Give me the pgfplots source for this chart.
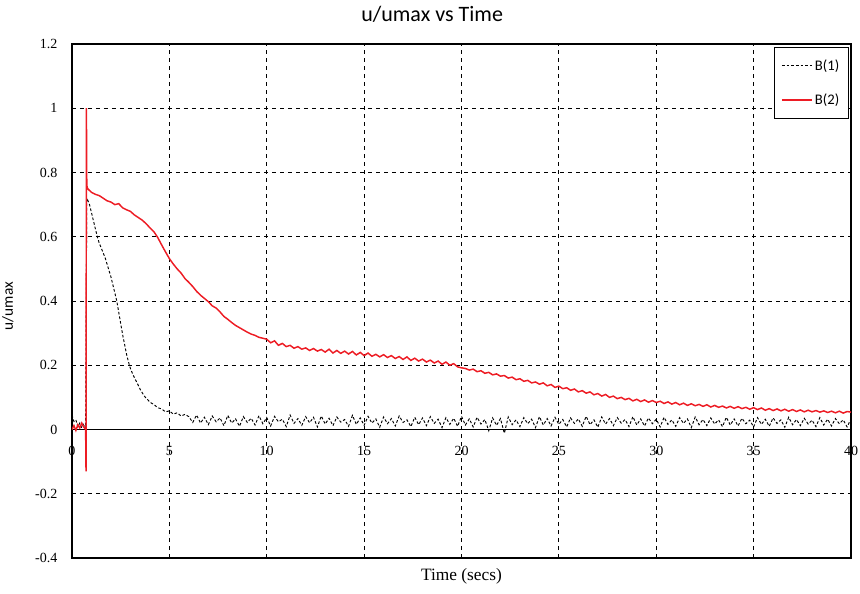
\documentclass[border=0pt]{standalone}
\usepackage{pgfplots}
\pgfplotsset{compat=1.18}
\usepackage{fontspec}
\setmainfont{Liberation Serif}
\newfontfamily\carlito{Carlito}
\definecolor{lred}{RGB}{237,28,36}
\begin{document}
\begin{tikzpicture}
\useasboundingbox (-54pt,-26.25pt) rectangle (591pt,418.5pt);
\begin{axis}[
  scale only axis,
  width=584.25pt, height=385.5pt,
  xmin=0, xmax=40, ymin=-0.4, ymax=1.2,
  xtick={0,5,10,15,20,25,30,35,40},
  xticklabels={0,5,10,15,20,25,30,35,40},
  ytick={-0.4,-0.2,0,0.2,0.4,0.6,0.8,1,1.2},
  yticklabels={-0.4,-0.2,0,0.2,0.4,0.6,0.8,1,1.2},
  major tick length=0pt,
  grid=major,
  major grid style={black, line width=0.6pt, dash pattern=on 3pt off 3pt},
  axis line style={black, line width=0.8pt},
  extra y ticks={0},
  extra y tick labels={},
  extra y tick style={major grid style={solid, black, line width=0.8pt}},
  tick label style={font=\fontsize{10.5}{12}\selectfont},
  yticklabel style={xshift=-7.5pt},
  xticklabel style={yshift=87.2pt},
  title={u/umax vs Time},
  title style={at={([xshift=-22pt]rel axis cs:0.5,1)}, anchor=base, yshift=11pt, font=\carlito\fontsize{16.5}{19}\selectfont},
  xlabel={Time (secs)},
  xlabel style={at={(rel axis cs:0.5,0)}, anchor=north, yshift=-4pt, font=\fontsize{13}{15}\selectfont},
  ylabel={u/umax},
  ylabel style={at={([xshift=-48pt]rel axis cs:0,0.49)}, anchor=center, font=\carlito\fontsize{11.5}{13}\selectfont},
  legend style={at={(rel axis cs:0.9974,0.9942)}, anchor=north east, draw=black, line width=0.6pt,
    font=\carlito\fontsize{11}{13}\selectfont, row sep=12pt, inner xsep=5pt, inner ysep=7pt, cells={anchor=west}},
  legend image code/.code={\draw[#1] (0cm,0cm) -- (0.78cm,0cm);},
]
\addplot[black, line width=0.7pt, dash pattern=on 2pt off 1.5pt] coordinates {
(0,0.045) (0.1,0.025) (0.2,0.03) (0.3,0.008) (0.4,0.02) (0.5,0.005) (0.6,0.018) (0.7,0.006) (0.76,0.72) (0.8,0.715)
(0.9,0.70) (1.0,0.675) (1.1,0.65) (1.2,0.625) (1.3,0.60) (1.4,0.58) (1.5,0.565) (1.6,0.55) (1.7,0.535) (1.8,0.515)
(1.9,0.495) (2.0,0.475) (2.1,0.45) (2.2,0.425) (2.3,0.40) (2.4,0.365) (2.5,0.33) (2.6,0.295) (2.7,0.265) (2.8,0.235)
(2.9,0.21) (3.0,0.19) (3.1,0.175) (3.2,0.162) (3.3,0.15) (3.4,0.138) (3.5,0.125) (3.6,0.115) (3.7,0.105) (3.8,0.098)
(3.9,0.092) (4.0,0.085) (4.2,0.078) (4.4,0.068) (4.6,0.064) (4.8,0.055) (5.0,0.058) (5.2,0.048) (5.4,0.052) (5.6,0.042) (5.8,0.047)
(6.0,0.040) (6.2,0.022) (6.4,0.045) (6.6,0.020) (6.8,0.038) (7.0,0.015) (7.2,0.042) (7.4,0.024) (7.6,0.036) (7.8,0.012)
(8.0,0.044) (8.2,0.020) (8.4,0.033) (8.6,0.010) (8.8,0.040) (9.0,0.022) (9.2,0.035) (9.4,0.014) (9.6,0.043) (9.8,0.018)
(10.0,0.037) (10.2,0.011) (10.4,0.041) (10.6,0.024) (10.8,0.032) (11.0,0.009) (11.2,0.045) (11.4,0.019) (11.6,0.034) (11.8,0.013)
(12.0,0.040) (12.2,0.021) (12.4,0.038) (12.6,0.008) (12.8,0.042) (13.0,0.017) (13.2,0.035) (13.4,0.012) (13.6,0.039) (13.8,0.023)
(14.0,0.031) (14.2,0.010) (14.4,0.044) (14.6,0.016) (14.8,0.036) (15.0,0.013) (15.2,0.041) (15.4,0.020) (15.6,0.033) (15.8,0.007)
(16.0,0.039) (16.2,0.018) (16.4,0.034) (16.6,0.011) (16.8,0.042) (17.0,0.022) (17.2,0.030) (17.4,0.009) (17.6,0.038) (17.8,0.015)
(18.0,0.036) (18.2,0.012) (18.4,0.040) (18.6,0.019) (18.8,0.032) (19.0,0.006) (19.2,0.037) (19.4,0.016) (19.6,0.035) (19.8,0.010)
(20.0,0.041) (20.2,0.014) (20.4,0.033) (20.6,0.008) (20.8,0.038) (21.0,0.017) (21.2,0.031) (21.4,-0.004) (21.6,0.036) (21.8,0.013)
(22.0,0.034) (22.2,-0.012) (22.4,0.039) (22.6,0.015) (22.8,0.030) (23.0,0.009) (23.2,0.037) (23.4,0.018) (23.6,0.032) (23.8,0.006)
(24.0,0.040) (24.2,0.014) (24.4,0.034) (24.6,0.011) (24.8,0.038) (25.0,0.016) (25.2,0.031) (25.4,0.008) (25.6,0.036) (25.8,0.019)
(26.0,0.033) (26.2,0.010) (26.4,0.041) (26.6,0.015) (26.8,0.030) (27.0,0.007) (27.2,0.039) (27.4,0.017) (27.6,0.034) (27.8,0.012)
(28.0,0.037) (28.2,0.020) (28.4,0.031) (28.6,0.009) (28.8,0.040) (29.0,0.014) (29.2,0.033) (29.4,0.011) (29.6,0.036) (29.8,0.018)
(30.0,0.032) (30.2,0.008) (30.4,0.038) (30.6,0.016) (30.8,0.030) (31.0,0.010) (31.2,0.037) (31.4,0.019) (31.6,0.033) (31.8,0.006)
(32.0,0.039) (32.2,0.015) (32.4,0.031) (32.6,0.012) (32.8,0.036) (33.0,0.017) (33.2,0.030) (33.4,0.009) (33.6,0.038) (33.8,0.014)
(34.0,0.033) (34.2,0.011) (34.4,0.035) (34.6,0.018) (34.8,0.029) (35.0,0.008) (35.2,0.037) (35.4,0.016) (35.6,0.032) (35.8,0.010)
(36.0,0.036) (36.2,0.019) (36.4,0.030) (36.6,0.007) (36.8,0.038) (37.0,0.015) (37.2,0.031) (37.4,0.012) (37.6,0.035) (37.8,0.017)
(38.0,0.029) (38.2,0.009) (38.4,0.037) (38.6,0.014) (38.8,0.032) (39.0,0.011) (39.2,0.034) (39.4,0.018) (39.6,0.030) (39.8,0.008)
(40.0,0.033)
};
\addlegendentry{B(1)}
\addplot[lred, line width=1.1pt] coordinates {
(0,0.0) (0.1,0.012) (0.2,-0.003) (0.3,0.015) (0.4,0.005) (0.5,0.02) (0.6,0.008) (0.7,0.0) (0.72,-0.13) (0.74,1.0) (0.76,0.76)
(0.8,0.750) (1.0,0.738) (1.2,0.732) (1.4,0.728) (1.6,0.720) (1.8,0.712) (2.0,0.708) (2.2,0.700) (2.4,0.703) (2.6,0.690)
(2.8,0.684) (3.0,0.679) (3.2,0.668) (3.4,0.660) (3.6,0.652) (3.8,0.641) (4.0,0.628) (4.2,0.616) (4.4,0.598) (4.6,0.575)
(4.8,0.553) (5.0,0.532) (5.2,0.515) (5.4,0.500) (5.6,0.487) (5.8,0.470) (6.0,0.458) (6.2,0.445) (6.4,0.430) (6.6,0.418)
(6.8,0.408) (7.0,0.398) (7.2,0.385) (7.4,0.378) (7.6,0.366) (7.8,0.352) (8.0,0.343) (8.2,0.333) (8.4,0.324) (8.6,0.317)
(8.8,0.310) (9.0,0.303) (9.2,0.297) (9.4,0.293) (9.6,0.287) (9.8,0.284) (10.0,0.281) (10.2,0.270) (10.4,0.276) (10.6,0.262)
(10.8,0.268) (11.0,0.258) (11.2,0.262) (11.4,0.253) (11.6,0.258) (11.8,0.250) (12.0,0.254) (12.2,0.246) (12.4,0.252) (12.6,0.244)
(12.8,0.249) (13.0,0.241) (13.2,0.250) (13.4,0.238) (13.6,0.246) (13.8,0.237) (14.0,0.244) (14.2,0.235) (14.4,0.243) (14.6,0.232)
(14.8,0.240) (15.0,0.230) (15.2,0.238) (15.4,0.228) (15.6,0.234) (15.8,0.226) (16.0,0.233) (16.2,0.224) (16.4,0.230) (16.6,0.221)
(16.8,0.227) (17.0,0.218) (17.2,0.226) (17.4,0.215) (17.6,0.222) (17.8,0.213) (18.0,0.219) (18.2,0.210) (18.4,0.216) (18.6,0.207)
(18.8,0.213) (19.0,0.203) (19.2,0.210) (19.4,0.200) (19.6,0.205) (19.8,0.195) (20.0,0.192) (20.2,0.190) (20.4,0.185) (20.6,0.188)
(20.8,0.180) (21.0,0.183) (21.2,0.175) (21.4,0.178) (21.6,0.170) (21.8,0.173) (22.0,0.166) (22.2,0.168) (22.4,0.160) (22.6,0.163)
(22.8,0.155) (23.0,0.158) (23.2,0.150) (23.4,0.153) (23.6,0.145) (23.8,0.148) (24.0,0.141) (24.2,0.145) (24.4,0.136) (24.6,0.140)
(24.8,0.131) (25.0,0.135) (25.2,0.127) (25.4,0.130) (25.6,0.122) (25.8,0.126) (26.0,0.117) (26.2,0.121) (26.4,0.113) (26.6,0.117)
(26.8,0.108) (27.0,0.112) (27.2,0.104) (27.4,0.109) (27.6,0.100) (27.8,0.104) (28.0,0.096) (28.2,0.100) (28.4,0.093) (28.6,0.097)
(28.8,0.089) (29.0,0.094) (29.2,0.087) (29.4,0.092) (29.6,0.085) (29.8,0.090) (30.0,0.084) (30.2,0.088) (30.4,0.081) (30.6,0.086)
(30.8,0.079) (31.0,0.084) (31.2,0.077) (31.4,0.082) (31.6,0.075) (31.8,0.080) (32.0,0.074) (32.2,0.078) (32.4,0.072) (32.6,0.077)
(32.8,0.070) (33.0,0.075) (33.2,0.069) (33.4,0.073) (33.6,0.067) (33.8,0.072) (34.0,0.066) (34.2,0.071) (34.4,0.065) (34.6,0.069)
(34.8,0.063) (35.0,0.068) (35.2,0.062) (35.4,0.067) (35.6,0.060) (35.8,0.065) (36.0,0.059) (36.2,0.064) (36.4,0.058) (36.6,0.063)
(36.8,0.057) (37.0,0.062) (37.2,0.056) (37.4,0.061) (37.6,0.055) (37.8,0.060) (38.0,0.055) (38.2,0.059) (38.4,0.054) (38.6,0.058)
(38.8,0.053) (39.0,0.057) (39.2,0.052) (39.4,0.057) (39.6,0.051) (39.8,0.056) (40.0,0.054)
};
\addlegendentry{B(2)}
\end{axis}
\end{tikzpicture}
\end{document}
